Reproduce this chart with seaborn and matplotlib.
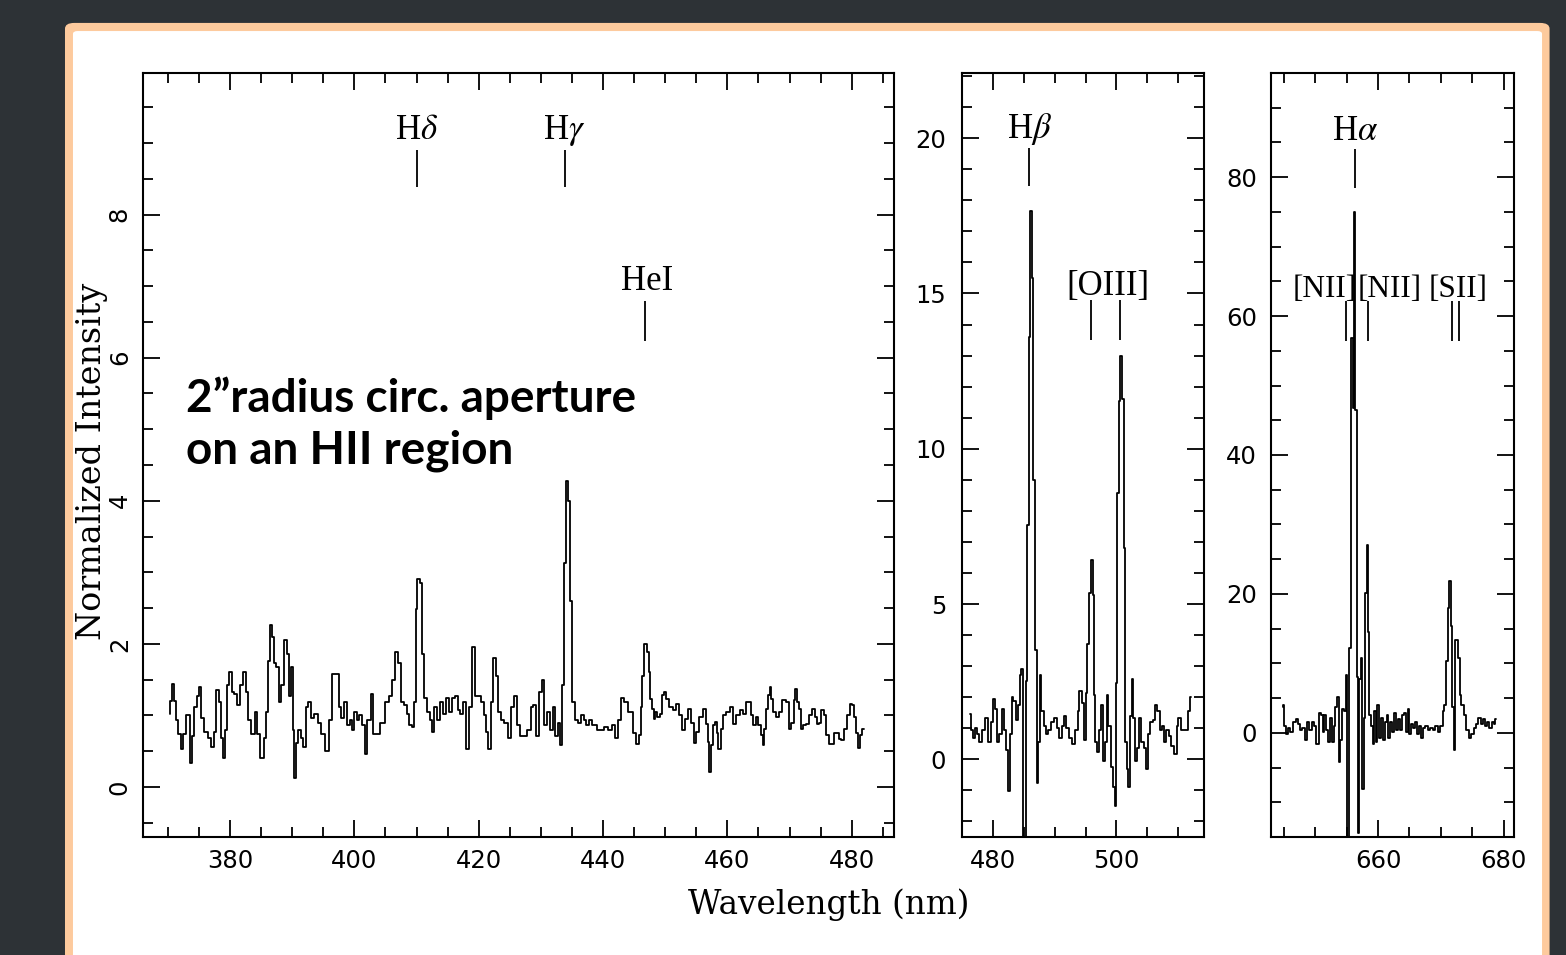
import matplotlib
matplotlib.use('Agg')
import matplotlib.pyplot as plt
import seaborn as sns
from matplotlib.patches import FancyBboxPatch
from matplotlib.ticker import MultipleLocator

# blue part of the spectrum, 370-482 nm (normalized intensity)
wave_blue = [370.3, 370.5, 370.8, 371.2, 371.5, 371.8, 372.3, 372.7, 373.0, 373.4,
             373.8, 374.1, 374.4, 374.9, 375.2, 375.6, 376.1, 376.7, 377.2, 377.5,
             378.0, 378.3, 378.7, 379.0, 379.3, 379.7, 380.1, 380.4, 380.9, 381.4,
             381.8, 382.3, 382.7, 383.2, 383.7, 384.2, 384.6, 385.2, 385.6, 386.0,
             386.3, 386.6, 386.9, 387.2, 387.6, 388.0, 388.5, 389.0, 389.3, 389.6,
             390.0, 390.2, 390.5, 390.8, 391.2, 391.6, 391.9, 392.4, 392.8, 393.3,
             393.8, 394.4, 395.0, 395.6, 396.2, 396.7, 397.3, 397.7, 398.1, 398.5,
             399.0, 399.5, 399.8, 400.1, 400.6, 401.0, 401.5, 401.9, 402.3, 402.9,
             403.2, 403.8, 404.6, 405.2, 405.8, 406.3, 406.8, 407.2, 407.7, 408.2,
             408.6, 409.0, 409.4, 409.7, 410.0, 410.3, 410.8, 411.1, 411.4, 411.9,
             412.3, 412.6, 413.1, 413.6, 414.1, 414.5, 415.0, 415.4, 415.9, 416.4,
             416.8, 417.3, 417.7, 418.2, 418.7, 419.1, 419.6, 420.1, 420.6, 421.0,
             421.3, 421.7, 422.1, 422.5, 423.0, 423.3, 423.8, 424.4, 425.0, 425.5,
             425.9, 426.4, 426.9, 427.5, 428.1, 428.6, 429.0, 429.5, 430.0, 430.3,
             430.7, 431.2, 431.7, 432.1, 432.6, 432.9, 433.3, 433.6, 433.8, 434.2,
             434.6, 434.9, 435.2, 435.7, 436.2, 436.7, 437.1, 437.5, 438.0, 438.6,
             439.3, 439.9, 440.5, 441.1, 441.7, 442.2, 442.7, 443.2, 443.6, 444.5,
             445.0, 445.6, 446.0, 446.1, 446.4, 446.8, 447.2, 447.5, 447.7, 448.0,
             448.3, 448.5, 448.9, 449.3, 449.7, 450.0, 450.4, 450.9, 451.5, 452.0,
             452.5, 452.9, 453.4, 453.9, 454.3, 454.8, 455.2, 455.8, 456.3, 456.7,
             456.9, 457.2, 457.5, 457.9, 458.2, 458.4, 458.7, 459.1, 459.5, 460.1,
             460.6, 461.1, 461.7, 462.2, 462.7, 463.3, 463.6, 463.9, 464.3, 464.8,
             465.1, 465.6, 465.8, 466.1, 466.4, 466.7, 466.9, 467.2, 467.5, 468.1,
             468.6, 469.1, 469.7, 470.1, 470.5, 470.8, 471.0, 471.3, 471.7, 472.0,
             472.4, 472.9, 473.4, 473.9, 474.3, 474.6, 474.9, 475.3, 475.7, 476.1,
             476.5, 476.9, 477.3, 477.7, 478.1, 478.6, 479.0, 479.4, 479.9, 480.2,
             480.5, 480.8, 481.2, 481.5, 481.9]
flux_blue = [1.02, 1.20, 1.44, 1.20, 0.93, 0.74, 0.53, 0.74, 1.00, 1.00,
             0.34, 0.71, 1.11, 1.27, 1.39, 0.96, 0.77, 0.68, 0.56, 0.77,
             1.36, 1.18, 0.68, 0.40, 0.80, 1.42, 1.61, 1.33, 1.30, 1.15,
             1.42, 1.61, 1.33, 0.93, 0.74, 1.05, 0.74, 0.40, 0.68, 1.05,
             1.76, 2.26, 2.10, 1.73, 1.67, 1.18, 1.42, 2.06, 1.86, 1.27,
             1.67, 0.80, 0.12, 0.62, 0.80, 0.68, 0.56, 1.11, 1.18, 0.96,
             1.02, 0.90, 0.74, 0.50, 0.93, 1.58, 1.58, 1.11, 0.96, 1.18,
             0.87, 0.93, 0.80, 1.05, 0.93, 1.00, 0.87, 0.46, 0.93, 1.30,
             0.74, 0.74, 0.90, 1.18, 1.27, 1.49, 1.89, 1.73, 1.18, 1.15,
             1.02, 0.87, 0.84, 1.18, 2.48, 2.91, 2.85, 1.86, 1.24, 1.05,
             0.93, 0.77, 1.11, 0.93, 1.18, 1.02, 1.24, 1.05, 1.24, 1.27,
             1.08, 1.02, 1.18, 0.53, 1.11, 1.95, 1.27, 1.27, 1.18, 1.00,
             0.77, 0.53, 1.18, 1.80, 1.55, 1.05, 0.93, 0.90, 0.68, 1.11,
             1.27, 0.87, 0.71, 0.71, 0.80, 1.11, 1.15, 0.71, 1.33, 1.49,
             0.87, 1.05, 0.80, 1.11, 0.71, 0.90, 0.59, 1.42, 3.13, 4.27,
             4.00, 2.60, 1.18, 0.93, 0.90, 1.00, 0.93, 0.87, 0.93, 0.87,
             0.80, 0.80, 0.84, 0.80, 0.87, 0.68, 0.93, 1.24, 1.18, 1.04,
             0.76, 0.60, 0.72, 1.12, 1.55, 2.00, 1.88, 1.60, 1.23, 1.09,
             0.95, 1.05, 0.98, 1.02, 1.28, 1.33, 1.23, 1.12, 1.07, 1.16,
             1.00, 0.79, 0.95, 1.09, 0.90, 0.62, 0.77, 0.98, 1.09, 0.88,
             0.63, 0.21, 0.58, 0.86, 0.91, 0.76, 0.53, 0.81, 1.00, 1.04,
             1.11, 0.88, 1.00, 1.07, 1.02, 1.18, 1.19, 1.00, 0.86, 0.97,
             0.86, 0.72, 0.58, 0.81, 1.09, 1.28, 1.39, 1.23, 1.04, 0.97,
             1.04, 1.21, 1.18, 0.81, 0.90, 1.21, 1.37, 1.18, 1.09, 0.81,
             0.86, 0.88, 1.00, 1.09, 0.97, 0.88, 0.90, 1.07, 1.00, 0.72,
             0.60, 0.60, 0.76, 0.76, 0.67, 0.65, 0.81, 1.00, 1.16, 1.14,
             0.97, 0.76, 0.55, 0.72, 0.81]

# H-beta / [OIII] window
wave_hb = [476.3, 476.5, 476.9, 477.2, 477.6, 478.0, 478.4, 479.0, 479.4, 479.8,
           480.2, 480.5, 480.9, 481.2, 481.7, 481.9, 482.3, 482.6, 482.9, 483.1,
           483.5, 483.8, 484.2, 484.5, 484.7, 484.9, 485.2, 485.4, 485.7, 486.0,
           486.1, 486.4, 486.7, 486.9, 487.2, 487.5, 487.7, 488.0, 488.4, 488.7,
           489.2, 489.6, 490.1, 490.5, 490.9, 491.3, 491.7, 492.1, 492.6, 493.0,
           493.5, 493.9, 494.1, 494.6, 494.9, 495.2, 495.4, 495.7, 496.0, 496.3,
           496.4, 496.7, 497.0, 497.4, 497.7, 498.0, 498.3, 498.5, 498.9, 499.2,
           499.6, 499.8, 500.0, 500.2, 500.5, 500.8, 501.1, 501.4, 501.5, 501.8,
           502.0, 502.3, 502.6, 502.8, 503.1, 503.5, 503.9, 504.2, 504.6, 504.9,
           505.3, 505.7, 506.1, 506.5, 506.8, 507.2, 507.5, 507.9, 508.3, 508.7,
           509.1, 509.6, 509.9, 510.2, 510.6, 511.0, 511.4, 511.7, 512.0]
flux_hb = [1.47, 0.95, 0.68, 1.01, 0.82, 0.55, 0.95, 1.34, 0.55, 1.21,
           1.94, 1.61, 0.55, 0.82, 1.61, 0.95, 0.29, -1.03, 0.82, 2.00,
           1.87, 1.28, 1.74, 2.73, 2.92, -3.0, -3.0, 2.53, 7.53, 13.59,
           17.67, 15.50, 8.98, 3.52, -0.76, 0.55, 2.73, 1.54, 1.08, 0.82,
           0.95, 1.21, 1.34, 1.01, 0.68, 1.08, 1.41, 1.01, 0.68, 0.49,
           0.95, 1.54, 2.20, 1.80, 0.62, 2.13, 3.71, 5.36, 6.41, 5.29,
           2.07, 0.55, 0.22, 0.95, 1.74, -0.04, 0.55, 2.07, 1.08, -0.24,
           -0.90, -1.49, 2.46, 8.58, 11.55, 13.00, 11.61, 6.81, 0.55, -0.30,
           -0.90, 1.41, 2.59, 1.34, -0.04, 0.36, 1.34, 0.55, 0.36, -0.30,
           0.82, 1.21, 1.28, 1.74, 1.54, 0.95, 1.08, 0.55, 0.95, 0.75,
           0.42, 0.16, 1.08, 1.34, 0.95, 0.95, 0.95, 1.54, 2.00]

# H-alpha / [NII] / [SII] window
wave_ha = [644.9, 645.0, 645.2, 645.6, 645.9, 646.3, 646.7, 647.1, 647.5, 647.8,
           648.1, 648.6, 648.9, 649.3, 649.6, 650.0, 650.4, 650.7, 651.1, 651.3,
           651.6, 651.9, 652.2, 652.5, 652.8, 653.1, 653.3, 653.6, 653.9, 654.1,
           654.4, 654.7, 655.0, 655.3, 655.6, 655.8, 656.1, 656.3, 656.5, 656.8,
           657.0, 657.1, 657.4, 657.6, 657.8, 658.1, 658.3, 658.5, 658.7, 659.0,
           659.3, 659.5, 659.8, 660.0, 660.3, 660.6, 661.0, 661.2, 661.5, 661.8,
           662.1, 662.3, 662.7, 663.0, 663.3, 663.7, 663.9, 664.2, 664.6, 664.8,
           665.1, 665.4, 665.7, 666.0, 666.3, 666.6, 666.9, 667.3, 667.7, 668.1,
           668.5, 668.9, 669.3, 669.7, 670.1, 670.4, 670.6, 670.9, 671.2, 671.4,
           671.7, 671.9, 672.1, 672.3, 672.6, 672.9, 673.1, 673.4, 673.8, 674.2,
           674.6, 675.0, 675.4, 675.8, 676.1, 676.5, 676.8, 677.1, 677.5, 677.9,
           678.2, 678.6, 678.7]
flux_ha = [3.68, 3.96, 1.03, -0.15, 0.74, 0.15, 1.62, 1.92, 1.33, 0.45,
           0.74, -1.03, 1.62, 0.45, 1.62, 1.03, -1.62, 2.78, 2.49, 0.15,
           2.49, 0.45, -1.33, 2.19, -1.33, 1.03, 3.68, 5.14, -4.26, -1.03,
           3.38, 3.08, 8.37, -16.0, 12.19, 56.8, 46.8, 75.0, 46.5, 8.08,
           -14.5, 7.79, 10.7, -8.08, 2.19, 20.1, 27.1, 14.5, 2.49, 1.03,
           -1.62, 3.08, -1.33, 3.96, -0.74, 2.19, -1.03, 1.62, 2.49, -0.74,
           1.62, 0.15, 2.78, 0.45, 1.92, 0.45, 2.49, 2.78, 0.15, 3.38,
           -0.15, 1.33, 0.74, 1.62, -0.15, 1.03, -0.74, 0.74, 1.03, 0.45,
           0.74, 0.45, 1.03, 0.15, 1.03, 3.08, 3.96, 10.4, 18.0, 21.9,
           15.4, 3.68, -2.5, 13.4, 13.4, 10.7, 5.43, 3.96, 2.49, 0.45,
           -0.74, -0.15, 0.74, 1.33, 2.19, 1.33, 1.92, 1.03, 1.62, 0.74,
           1.62, 1.33, 1.92]

# identified emission lines
blue_labels = ['H$\\delta$', 'H$\\gamma$', 'HeI']
blue_waves = [410.0, 433.8, 446.8]
hb_labels = ['H$\\beta$', '[OIII]']
hb_waves = [485.9, 495.8, 500.6]
ha_labels = ['H$\\alpha$', '[NII]', '[NII]', '[SII]']
ha_waves = [656.3, 654.9, 658.4, 671.7, 672.8]

sns.set_style('ticks')
plt.rcParams['font.family'] = ['DejaVu Sans']
plt.rcParams['mathtext.fontset'] = 'stix'

fig = plt.figure(figsize=(15.66, 9.55), dpi=100)
fig.patch.set_facecolor('#2d3236')

# slide frame behind the plot
fig.patches.append(FancyBboxPatch((0.0415, -0.05), 0.948, 1.026,
                                  boxstyle='round,pad=0,rounding_size=0.006',
                                  transform=fig.transFigure, fc='#fdca9d',
                                  ec='none', zorder=-2))
fig.patches.append(FancyBboxPatch((0.0466, -0.05), 0.9381, 1.0175,
                                  boxstyle='round,pad=0,rounding_size=0.003',
                                  transform=fig.transFigure, fc='white',
                                  ec='none', zorder=-1))

ax1 = fig.add_axes([0.0913, 0.1236, 0.4796, 0.80])
ax2 = fig.add_axes([0.6140, 0.1236, 0.1549, 0.80])
ax3 = fig.add_axes([0.8116, 0.1236, 0.1552, 0.80])

label_font = dict(family='Liberation Serif', fontsize=25, color='black')
small_font = dict(family='Liberation Serif', fontsize=22.5, color='black')


def draw_panel(ax, wave, flux, xlim, ylim, xmaj, xmin, ymaj, ymin, ypad):
    '''
    draws one spectrum window in the PGPLOT-like style
    '''
    sns.lineplot(x=wave, y=flux, ax=ax, color='black', linewidth=1.3,
                 drawstyle='steps-mid', estimator=None, sort=False)
    ax.set_xlim(xlim)
    ax.set_ylim(ylim)
    ax.xaxis.set_major_locator(MultipleLocator(xmaj))
    ax.xaxis.set_minor_locator(MultipleLocator(xmin))
    ax.yaxis.set_major_locator(MultipleLocator(ymaj))
    ax.yaxis.set_minor_locator(MultipleLocator(ymin))
    ax.tick_params(which='both', direction='in', top=True, right=True,
                   width=1.3, labelsize=17.5, colors='black')
    ax.tick_params(which='major', length=12)
    ax.tick_params(which='minor', length=7)
    ax.tick_params(axis='x', pad=9)
    ax.tick_params(axis='y', pad=ypad)
    for s in ax.spines.values():
        s.set_linewidth(1.5)
        s.set_color('black')
    ax.set_xlabel('')
    ax.set_ylabel('')


draw_panel(ax1, wave_blue, flux_blue, (366.0, 486.8), (-0.7, 9.98), 20, 5, 2, 0.5, 8)
draw_panel(ax2, wave_hb, flux_hb, (474.9, 514.2), (-2.5, 22.1), 20, 5, 5, 1, 11)
draw_panel(ax3, wave_ha, flux_ha, (643.0, 681.6), (-15.0, 95.0), 20, 5, 20, 5, 10)

for lbl in ax1.get_yticklabels():
    lbl.set_rotation(90)
    lbl.set_va('center')

# line identifications, panel 1
ax1.vlines(blue_waves[:2], 8.38, 8.91, color='black', lw=1.3)
ax1.vlines(blue_waves[2], 6.24, 6.79, color='black', lw=1.3)
ax1.text(blue_waves[0], 9.05, blue_labels[0], ha='center', va='baseline', **label_font)
ax1.text(blue_waves[1], 9.05, blue_labels[1], ha='center', va='baseline', **label_font)
ax1.text(blue_waves[2] + 0.3, 6.95, blue_labels[2], ha='center', va='baseline', **label_font)

# panel 2
ax2.vlines(hb_waves[0], 18.45, 19.68, color='black', lw=1.3)
ax2.vlines(hb_waves[1:], 13.49, 14.78, color='black', lw=1.3)
ax2.text(hb_waves[0], 20.0, hb_labels[0], ha='center', va='baseline', **label_font)
ax2.text(498.6, 14.95, hb_labels[1], ha='center', va='baseline', **label_font)

# panel 3
ax3.vlines(ha_waves[0], 78.5, 84.0, color='black', lw=1.3)
ax3.vlines(ha_waves[1:], 56.4, 62.2, color='black', lw=1.3)
ax3.text(ha_waves[0], 85.4, ha_labels[0], ha='center', va='baseline', **label_font)
ax3.text(651.5, 62.8, ha_labels[1], ha='center', va='baseline', **small_font)
ax3.text(661.9, 62.8, ha_labels[2], ha='center', va='baseline', **small_font)
ax3.text(672.7, 62.8, ha_labels[3], ha='center', va='baseline', **small_font)

# slide annotation
ax1.text(372.9, 5.24, '2\u201dradius circ. aperture', ha='left', va='baseline',
         fontsize=33, fontweight='bold', family='Lato', color='black')
ax1.text(372.9, 4.52, 'on an HII region', ha='left', va='baseline',
         fontsize=33, fontweight='bold', family='Lato', color='black')

fig.text(0.5294, 0.0524, 'Wavelength (nm)', ha='center', va='center',
         family='DejaVu Serif', fontsize=23.5, color='black')
fig.text(0.0587, 0.5173, 'Normalized Intensity', ha='center', va='center',
         rotation=90, family='DejaVu Serif', fontsize=24, color='black')

fig.savefig('out.png', dpi=100, facecolor=fig.get_facecolor())
